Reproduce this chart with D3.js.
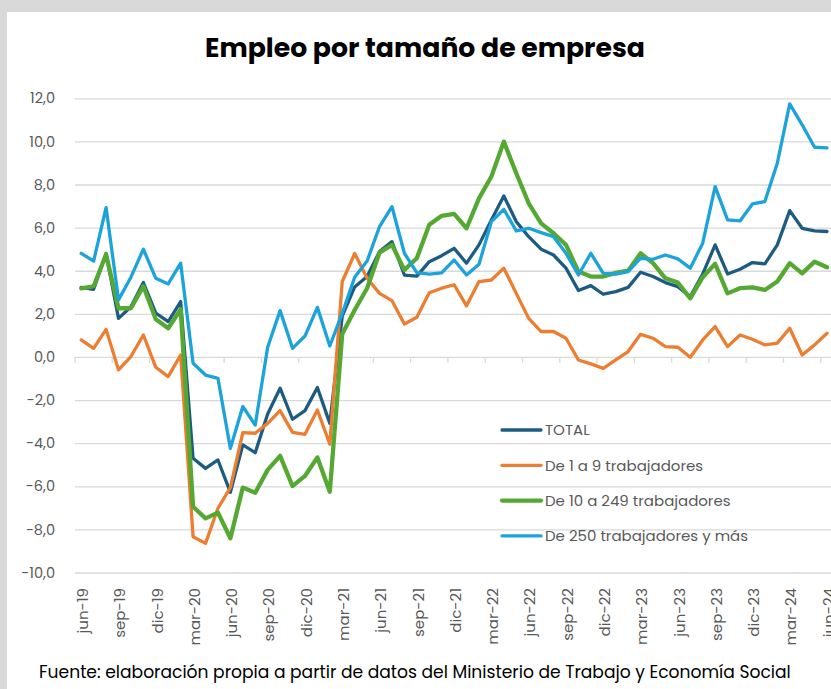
<!DOCTYPE html>
<html>
<head>
<meta charset="utf-8">
<script src="https://cdn.jsdelivr.net/npm/d3@7"></script>
<style>
  body { margin: 0; background: #fff; }
  text { font-family: "Poppins", "Open Sans", sans-serif; }
</style>
</head>
<body>
<div id="container"></div>
<script>
/* CONSTANTS AND GLOBALS */
const width = 831,
  height = 689,
  margin = { top: 98.3, bottom: 116.5, left: 75, right: 0 };

// months, jun-19 .. jun-24
const monthNames = ["ene", "feb", "mar", "abr", "may", "jun", "jul", "ago", "sep", "oct", "nov", "dic"];
const months = [];
for (let y = 2019; y <= 2024; y++) {
  monthNames.forEach((m, i) => {
    if ((y === 2019 && i < 5) || (y === 2024 && i > 5)) return;
    months.push(m + "-" + String(y).slice(2));
  });
}

const total = [3.23, 3.14, 4.8, 1.79, 2.33, 3.45, 2.03, 1.64, 2.57, -4.7, -5.17, -4.78, -6.28, -4.08, -4.44,
  -2.65, -1.45, -2.89, -2.49, -1.42, -3.08, 1.9, 3.25, 3.73, 4.89, 5.35, 3.8, 3.75, 4.42, 4.7,
  5.04, 4.35, 5.2, 6.36, 7.47, 6.28, 5.58, 5.0, 4.73, 4.12, 3.08, 3.31, 2.91, 3.03, 3.23,
  3.93, 3.73, 3.45, 3.26, 2.8, 3.85, 5.2, 3.85, 4.07, 4.38, 4.32, 5.2, 6.79, 5.97, 5.85, 5.82];
const micro = [0.79, 0.4, 1.28, -0.6, 0.02, 1.02, -0.48, -0.91, 0.09, -8.34, -8.65, -7.02, -6.06, -3.51, -3.54,
  -3.08, -2.49, -3.5, -3.59, -2.46, -4.05, 3.5, 4.8, 3.65, 2.95, 2.61, 1.53, 1.84, 2.98, 3.19,
  3.35, 2.37, 3.5, 3.57, 4.12, 2.95, 1.79, 1.18, 1.18, 0.87, -0.14, -0.32, -0.53, -0.14, 0.25,
  1.05, 0.87, 0.48, 0.45, -0.01, 0.79, 1.41, 0.48, 1.02, 0.82, 0.56, 0.64, 1.33, 0.09, 0.56, 1.1];
const medium = [3.18, 3.28, 4.75, 2.26, 2.26, 3.28, 1.75, 1.33, 2.21, -6.95, -7.49, -7.22, -8.41, -6.06, -6.3,
  -5.24, -4.59, -5.99, -5.52, -4.66, -6.25, 1.07, 2.18, 3.19, 4.84, 5.2, 4.04, 4.58, 6.13, 6.55,
  6.64, 5.97, 7.36, 8.37, 9.99, 8.52, 7.13, 6.2, 5.74, 5.2, 3.96, 3.73, 3.73, 3.9, 4.0,
  4.81, 4.35, 3.65, 3.45, 2.72, 3.7, 4.32, 2.95, 3.19, 3.23, 3.11, 3.5, 4.35, 3.88, 4.42, 4.16];
const large = [4.81, 4.45, 6.93, 2.65, 3.7, 5.0, 3.65, 3.39, 4.35, -0.29, -0.84, -0.99, -4.24, -2.3, -3.16,
  0.45, 2.15, 0.4, 0.97, 2.3, 0.51, 2.03, 3.7, 4.45, 6.05, 6.97, 4.81, 3.91, 3.84, 3.9,
  4.5, 3.8, 4.3, 6.28, 6.85, 5.85, 5.97, 5.77, 5.58, 4.81, 3.8, 4.81, 3.88, 3.84, 3.96,
  4.58, 4.53, 4.73, 4.55, 4.12, 5.28, 7.9, 6.36, 6.31, 7.1, 7.21, 8.99, 11.74, 10.77, 9.73, 9.7];

const yTicks = d3.range(-10, 12.01, 2);

const series = [
  { name: "TOTAL", values: total, color: "#1d5c82", stroke: 3.3 },
  { name: "De 1 a 9 trabajadores", values: micro, color: "#ed7d31", stroke: 3.3 },
  { name: "De 10 a 249 trabajadores", values: medium, color: "#55a933", stroke: 4.3 },
  { name: "De 250 trabajadores y más", values: large, color: "#1ca3dc", stroke: 3.3 }
];

const gridColor = "#d9d9d9",
  textColor = "#595959";

/* SVG */
const svg = d3.select("#container")
  .append("svg")
  .attr("width", width)
  .attr("height", height);

// grey frame top / left
svg.append("rect").attr("width", width).attr("height", height).attr("fill", "#d9d9d9");
svg.append("rect").attr("x", 7).attr("y", 12).attr("width", width).attr("height", height).attr("fill", "#fff");

/* SCALES */
const xScale = d3.scaleBand()
  .domain(months)
  .range([margin.left, margin.left + months.length * 12.43]);

const yScale = d3.scaleLinear()
  .domain([-10, 12])
  .range([height - margin.bottom, margin.top]);

const px = d => xScale(d) + xScale.bandwidth() / 2;

// fit text into a target width
function fit(sel, w) {
  const l = sel.node().getComputedTextLength();
  const fs = parseFloat(sel.attr("font-size"));
  sel.attr("font-size", fs * w / l);
}

/* TITLE */
svg.append("text")
  .attr("x", 425)
  .attr("y", 57)
  .attr("text-anchor", "middle")
  .attr("font-size", 26)
  .attr("font-weight", "bold")
  .attr("fill", "#000")
  .text("Empleo por tamaño de empresa")
  .call(fit, 440);

/* GRID + Y AXIS */
const yAxis = d3.axisLeft(yScale)
  .tickValues(yTicks)
  .tickSize(-(width - margin.left + 5))
  .tickFormat(d => d3.format(".1f")(d).replace(".", ",").replace("−", "-"));

const yAxisGroup = svg.append("g")
  .attr("class", "yAxis")
  .attr("transform", `translate(${margin.left}, 0)`)
  .call(yAxis);

yAxisGroup.select(".domain").remove();
yAxisGroup.selectAll(".tick line")
  .attr("stroke", gridColor)
  .attr("stroke-width", 1.3);
yAxisGroup.selectAll(".tick text")
  .attr("x", -20)
  .attr("fill", textColor)
  .attr("font-size", 14.5)
  .style("font-family", '"Poppins", "Open Sans", sans-serif');

// x tick marks on the zero line
const xTickGroup = svg.append("g")
  .attr("transform", `translate(0, ${yScale(0)})`);
xTickGroup.selectAll("line")
  .data(months.filter((d, i) => i % 3 === 0))
  .join("line")
  .attr("x1", d => xScale(d))
  .attr("x2", d => xScale(d))
  .attr("y1", 0)
  .attr("y2", 6)
  .attr("stroke", gridColor)
  .attr("stroke-width", 1.3);

// x labels at the bottom
svg.append("g")
  .selectAll("text")
  .data(months.filter((d, i) => i % 3 === 0))
  .join("text")
  .attr("transform", d => `translate(${px(d) + 1.5}, 588) rotate(-90)`)
  .attr("text-anchor", "end")
  .attr("dy", "0.35em")
  .attr("fill", textColor)
  .attr("font-size", 15)
  .text(d => d);

/* LINES */
const line = d3.line()
  .x((d, i) => px(months[i]))
  .y(d => yScale(d));

svg.append("g")
  .selectAll("path")
  .data(series)
  .join("path")
  .attr("d", d => line(d.values))
  .attr("fill", "none")
  .attr("stroke", d => d.color)
  .attr("stroke-width", d => d.stroke)
  .attr("stroke-linejoin", "round")
  .attr("stroke-linecap", "round");

/* LEGEND */
const legend = svg.append("g")
  .selectAll("g")
  .data(series)
  .join("g")
  .attr("transform", (d, i) => `translate(502, ${430 + i * 35.3})`);

legend.append("line")
  .attr("x1", 0)
  .attr("x2", 39)
  .attr("stroke", d => d.color)
  .attr("stroke-width", d => d.stroke)
  .attr("stroke-linecap", "round");

legend.append("text")
  .attr("x", 43)
  .attr("dy", "0.35em")
  .attr("fill", textColor)
  .attr("font-size", 15)
  .text(d => d.name);

/* SOURCE */
svg.append("text")
  .attr("x", 39)
  .attr("y", 678)
  .attr("fill", "#000")
  .attr("font-size", 16)
  .text("Fuente: elaboración propia a partir de datos del Ministerio de Trabajo y Economía Social")
  .call(fit, 752);
</script>
</body>
</html>
